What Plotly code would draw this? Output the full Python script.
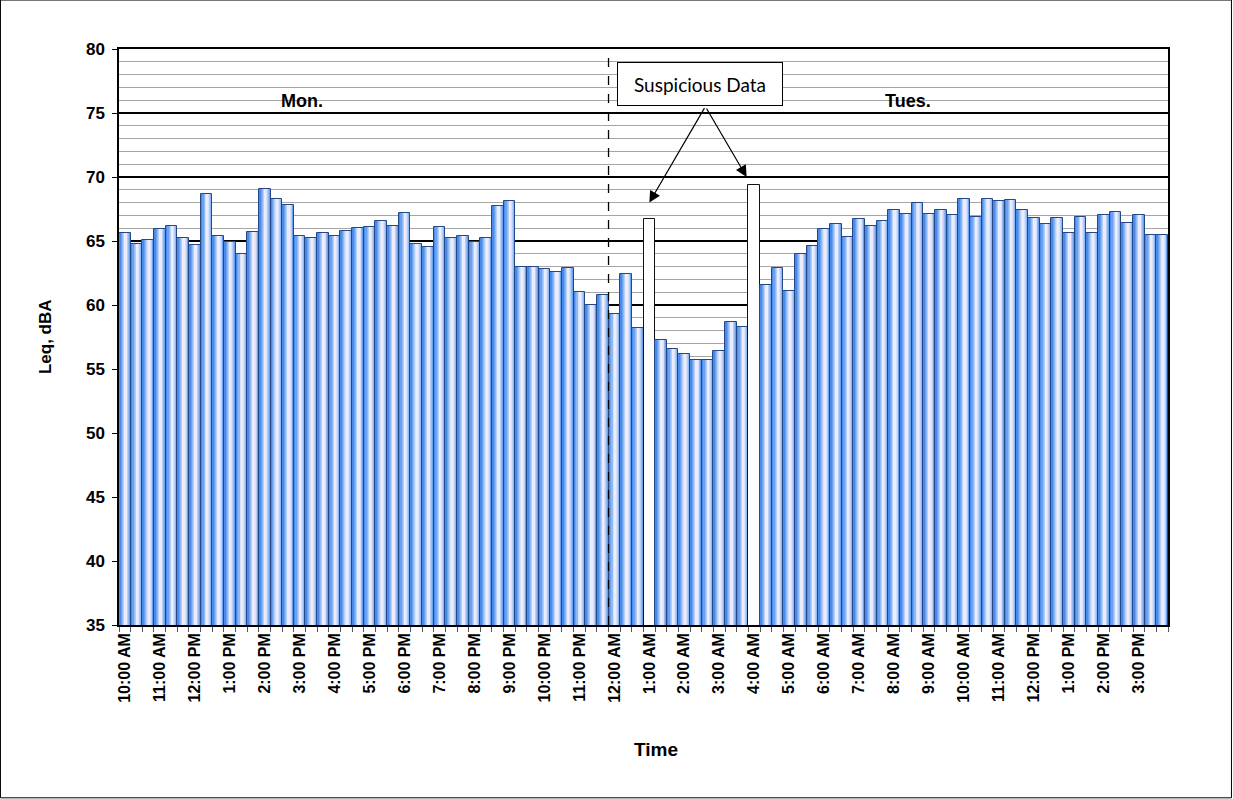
import pandas as pd
import plotly.graph_objects as go

# 20-minute Leq readings, Monday 10:00 AM through Tuesday 3:40 PM
start_time = "2024-01-08 10:00"  # a Monday
interval = "20min"
leq_dba = [
    65.6, 64.8, 65.1, 65.9, 66.2, 65.2, 64.7, 68.7, 65.4, 64.9, 64.0, 65.7,
    69.1, 68.3, 67.8, 65.4, 65.2, 65.6, 65.4, 65.8, 66.0, 66.1, 66.6, 66.2,
    67.2, 64.8, 64.5, 66.1, 65.2, 65.4, 64.9, 65.2, 67.7, 68.1, 63.0, 63.0,
    62.8, 62.6, 62.9, 61.0, 60.0, 60.8, 59.3, 62.4, 58.2, 66.7, 57.3, 56.6,
    56.2, 55.7, 55.7, 56.4, 58.7, 58.3, 69.4, 61.6, 62.9, 61.1, 64.0, 64.6,
    65.9, 66.3, 65.3, 66.7, 66.2, 66.6, 67.4, 67.1, 68.0, 67.1, 67.4, 67.0,
    68.3, 66.9, 68.3, 68.1, 68.2, 67.4, 66.8, 66.3, 66.8, 65.6, 66.9, 65.6,
    67.0, 67.3, 66.4, 67.0, 65.5, 65.5,
]
suspicious_times = ["2024-01-09 01:00", "2024-01-09 04:00"]
day_labels = ["Mon.", "Tues."]
day_label_times = ["2024-01-08 15:04", "2024-01-09 08:24"]
y_range = [35, 80]

times = pd.date_range(start_time, periods=len(leq_dba), freq=interval)
step = pd.Timedelta(interval)
step_ms = step.total_seconds() * 1000
flagged = set(pd.to_datetime(suspicious_times))
is_flagged = [t in flagged for t in times]

# Horizontal shading of each bar, built from nested narrower bars
shade_layers = [
    (1.00, 0.00, "#4a8ae8"),
    (0.80, 0.04, "#6aa2ef"),
    (0.62, 0.06, "#8fb9f4"),
    (0.46, 0.07, "#b6cff7"),
    (0.30, 0.07, "#d8e1fa"),
    (0.16, 0.07, "#eeecfb"),
]

fig = go.Figure()
for frac, shift, color in shade_layers:
    fig.add_trace(go.Bar(
        x=times, y=leq_dba,
        width=step_ms * frac,
        offset=step_ms * (-frac / 2 + shift),
        marker=dict(color=["white" if f else color for f in is_flagged],
                    line=dict(width=0)),
        hoverinfo="skip", showlegend=False,
    ))
# Outline drawn on top of the shading
fig.add_trace(go.Bar(
    x=times, y=leq_dba,
    width=step_ms, offset=-step_ms / 2,
    marker=dict(color="rgba(0,0,0,0)",
                line=dict(width=1, color=["#111111" if f else "#23488a" for f in is_flagged])),
    showlegend=False,
))

# Midnight divider between the two days
tue_start = times[times.day != times[0].day][0]
midnight_edge = tue_start - step / 2
fig.add_shape(type="line", xref="x", yref="paper", x0=midnight_edge, x1=midnight_edge,
              y0=0, y1=1, line=dict(color="black", width=1.3, dash="dash"))

# Frame around the whole figure
fig.add_shape(type="rect", xref="paper", yref="paper",
              x0=-0.1130, x1=1.0605, y0=-0.3000, y1=1.0850,
              line=dict(color="black", width=1))

bold = dict(family="Liberation Sans, Arial, sans-serif", color="black", weight="bold")

for label, t in zip(day_labels, day_label_times):
    fig.add_annotation(x=t, y=75.9, xref="x", yref="y", text=label, showarrow=False,
                       xanchor="center", yanchor="middle",
                       font=dict(size=18, **bold))

# Callout for the two questionable readings
fig.add_annotation(x=0.554, y=0.940, xref="paper", yref="paper", text="Suspicious Data",
                   xanchor="center", yanchor="middle",
                   showarrow=False, font=dict(family="Lato, sans-serif", size=19, color="black"),
                   bgcolor="white", bordercolor="black", borderwidth=1, borderpad=8,
                   width=148, height=26)
fig.add_annotation(x=pd.Timestamp(suspicious_times[0]), y=68.0, xref="x", yref="y",
                   text="", showarrow=True, ax=56, ay=-96, axref="pixel", ayref="pixel",
                   arrowhead=2, arrowsize=1.9, arrowwidth=1.2, arrowcolor="black", standoff=0)
fig.add_annotation(x=pd.Timestamp(suspicious_times[1]) - pd.Timedelta("13min"), y=70.0,
                   xref="x", yref="y",
                   text="", showarrow=True, ax=-41, ay=-70, axref="pixel", ayref="pixel",
                   arrowhead=2, arrowsize=1.9, arrowwidth=1.2, arrowcolor="black", standoff=0)

# Axis titles
fig.add_annotation(x=-0.0705, y=0.5, xref="paper", yref="paper", text="Leq, dBA",
                   xanchor="center", yanchor="middle",
                   textangle=-90, showarrow=False, font=dict(size=17, **bold))
fig.add_annotation(x=0.512, y=-0.217, xref="paper", yref="paper", text="Time",
                   xanchor="center", yanchor="middle",
                   showarrow=False, font=dict(size=19, **bold))

fig.update_layout(
    width=1233, height=799,
    margin=dict(l=119, r=65, t=49, b=174),
    barmode="overlay", bargap=0,
    plot_bgcolor="white", paper_bgcolor="white",
    showlegend=False,
    xaxis=dict(
        type="date",
        range=[times[0] - step / 2, times[-1] + step / 2],
        tick0=times[0], dtick=3600000, tickformat="%-I:%M %p",
        tickangle=-90, ticks="", showgrid=False,
        tickfont=dict(size=16, **bold),
        showline=True, linecolor="black", linewidth=1.5, mirror=True,
        minor=dict(tick0=times[0] - step / 2, dtick=step_ms, ticks="outside",
                   ticklen=5, tickcolor="#555555", showgrid=False),
    ),
    yaxis=dict(
        range=y_range, dtick=5, tick0=35,
        ticks="outside", ticklen=5, tickcolor="black",
        showgrid=True, gridcolor="black", gridwidth=1.5,
        tickfont=dict(size=17, **bold), ticklabelstandoff=4,
        showline=True, linecolor="black", linewidth=1.5, mirror=True,
        zeroline=False,
        minor=dict(dtick=1, showgrid=True, gridcolor="#a6a6a6", gridwidth=1, ticks=""),
    ),
)

fig.write_html("out.html")
